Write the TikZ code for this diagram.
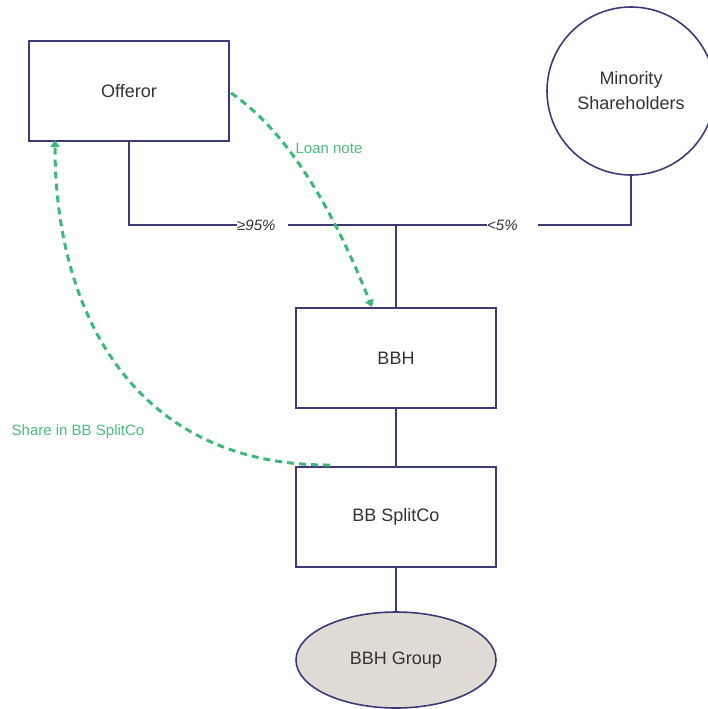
\documentclass[tikz,border=0pt]{standalone}
\usepackage{fontspec}
\setmainfont{Liberation Sans}
\usetikzlibrary{arrows.meta,shapes.geometric}
\definecolor{edgeblue}{HTML}{3E3A78}
\definecolor{flowgreen}{HTML}{3DB77A}
\definecolor{labelgreen}{HTML}{4CBB80}
\definecolor{txtgray}{HTML}{333333}
\definecolor{groupfill}{HTML}{E0DCD5}
\tikzset{
  entity/.style={draw=edgeblue, line width=1.6pt, minimum width=200pt, minimum height=100pt,
    inner sep=0pt, font=\fontsize{18}{21}\selectfont, text=txtgray},
  holder/.style={draw=edgeblue, line width=1.6pt, circle, minimum size=168pt, inner sep=0pt,
    font=\fontsize{18}{25}\selectfont, text=txtgray, align=center},
  group/.style={draw=edgeblue, line width=1.6pt, ellipse, minimum width=200pt, minimum height=96pt,
    fill=groupfill, inner sep=0pt, font=\fontsize{18}{21}\selectfont, text=txtgray},
  link/.style={draw=edgeblue, line width=1.6pt},
  pct/.style={fill=white, anchor=west, inner xsep=0pt, inner ysep=2pt, text width=51pt,
    align=left, font=\fontsize{15}{17}\selectfont\itshape, text=txtgray},
  flow/.style={draw=flowgreen, line width=3pt, dash pattern=on 7pt off 5pt,
    -{Triangle[length=7pt,width=9pt]}},
  flowlabel/.style={text=labelgreen, font=\fontsize{15}{17}\selectfont},
}
\begin{document}
\begin{tikzpicture}[x=1pt,y=-1pt]
\useasboundingbox (0,0) rectangle (707,709);

% parties
\node[entity] (offeror) at (129,91) {Offeror};
\node[holder] (minority) at (631,91) {Minority\\Shareholders};
\node[entity] (bbh) at (396,358) {BBH};
\node[entity] (splitco) at (396,517) {BB SplitCo};
\node[group] (group) at (396,660) {BBH Group};

% ownership lines
\coordinate (junction) at (396,225);
\draw[link] (offeror.south) |- (junction);
\draw[link] (minority.south) |- (junction);
\draw[link] (junction) -- (bbh.north);
\draw[link] (bbh.south) -- (splitco.north);
\draw[link] (splitco.south) -- (group.north);
\node[pct] (major) at (237,225) {≥95\%};
\node[pct] (minor) at (487,225) {<5\%};

% consideration flows
\coordinate (loanstart) at (231,93);
\coordinate (loanend) at (372,307);
\draw[flow] (loanstart) .. controls (300,140) and (345,240) .. (loanend);
\node[flowlabel] (loanlbl) at (329,148) {Loan note};

\coordinate (sharestart) at (330,465);
\coordinate (shareend) at (55,140);
\draw[flow] (sharestart) .. controls (140,466) and (55,320) .. (shareend);
\node[flowlabel] (sharelbl) at (78,432) {Share in BB SplitCo};
\end{tikzpicture}
\end{document}
